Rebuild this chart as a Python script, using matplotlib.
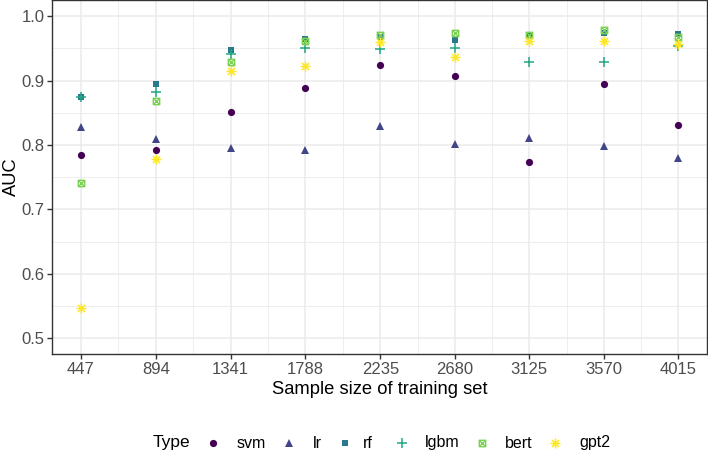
import matplotlib
matplotlib.use("Agg")
import matplotlib.pyplot as plt
from matplotlib.path import Path
from matplotlib.lines import Line2D

plt.rcParams['font.family'] = ['Liberation Sans', 'DejaVu Sans']

# training set sizes
sizes = [447, 894, 1341, 1788, 2235, 2680, 3125, 3570, 4015]

# AUC per model type
svm = [0.784, 0.792, 0.851, 0.888, 0.924, 0.907, 0.774, 0.895, 0.831]
lr = [0.828, 0.809, 0.796, 0.792, 0.830, 0.802, 0.811, 0.798, 0.780]
rf = [0.874, 0.894, 0.948, 0.964, 0.968, 0.963, 0.970, 0.974, 0.972]
lgbm = [0.874, 0.882, 0.941, 0.950, 0.949, 0.950, 0.928, 0.929, 0.954]
bert = [0.741, 0.868, 0.928, 0.961, 0.970, 0.973, 0.971, 0.978, 0.968]
gpt2 = [0.547, 0.778, 0.915, 0.922, 0.960, 0.936, 0.962, 0.962, 0.957]

types = ['svm', 'lr', 'rf', 'lgbm', 'bert', 'gpt2']
values = [svm, lr, rf, lgbm, bert, gpt2]
colors = ['#440154', '#414487', '#2A788E', '#22A884', '#7AD151', '#FDE725']

# R shape 7 (square with x) and shape 8 (asterisk)
sq_x = Path([(-1, -1), (1, -1), (1, 1), (-1, 1), (-1, -1),
             (-1, -1), (1, 1), (-1, 1), (1, -1)],
            [Path.MOVETO, Path.LINETO, Path.LINETO, Path.LINETO, Path.LINETO,
             Path.MOVETO, Path.LINETO, Path.MOVETO, Path.LINETO])
d = 0.7071
star = Path([(-1, 0), (1, 0), (0, -1), (0, 1), (-d, -d), (d, d), (-d, d), (d, -d)],
            [Path.MOVETO, Path.LINETO] * 4)

styles = {
    'svm': dict(marker='o', ms=5.2, mew=0),
    'lr': dict(marker='^', ms=5.8, mew=0),
    'rf': dict(marker='s', ms=4.8, mew=0),
    'lgbm': dict(marker='+', ms=7.2, mew=1.1),
    'bert': dict(marker=sq_x, ms=4.6, mew=1.0, mfc='none'),
    'gpt2': dict(marker=star, ms=7.2, mew=1.1, mfc='none'),
}

W, H = 708, 457
fig = plt.figure(figsize=(W / 100, H / 100), dpi=100)
ax = fig.add_axes([52 / W, 1 - 354.3 / H, 655.3 / W, 354.3 / H])

for t, v, c in zip(types, values, colors):
    ax.plot(sizes, v, linestyle='none', color=c, mec=c, **styles[t], zorder=3)

ax.set_xlim(447 - 173, 4015 + 173)
ax.set_ylim(0.475, 1.025)
ax.set_xticks(sizes)
ax.set_xticks([(a + b) / 2 for a, b in zip(sizes[:-1], sizes[1:])], minor=True)
ax.set_yticks([0.5, 0.6, 0.7, 0.8, 0.9, 1.0])
ax.set_yticks([0.55, 0.65, 0.75, 0.85, 0.95], minor=True)
ax.set_yticklabels(['0.5', '0.6', '0.7', '0.8', '0.9', '1.0'])

ax.grid(which='major', color='#EBEBEB', linewidth=1.1)
ax.grid(which='minor', color='#EBEBEB', linewidth=0.6)
ax.set_axisbelow(True)
for s in ax.spines.values():
    s.set_color('#333333')
    s.set_linewidth(1.0)
ax.tick_params(which='major', length=3.5, width=1.0, color='#333333',
               labelcolor='#4D4D4D', labelsize=12, pad=2)
ax.tick_params(which='minor', length=0)

ax.set_xlabel('Sample size of training set', fontsize=13.2, labelpad=3)
ax.set_ylabel('AUC', fontsize=13.2, va='center', ha='center')
ax.yaxis.set_label_coords((11 - 52) / 655.3, 0.5)

# legend drawn by hand at the bottom, like ggplot's horizontal guide
ly = 1 - 443 / H
fig.text(153 / W, ly, 'Type', fontsize=12.5, va='center', ha='left')
marker_x = [213, 289, 345, 402, 482, 555]
label_x = [237, 313, 363, 425, 505, 579]
for t, c, mx, tx in zip(types, colors, marker_x, label_x):
    fig.add_artist(Line2D([mx / W], [ly], linestyle='none', color=c, mec=c,
                          transform=fig.transFigure, **styles[t]))
    fig.text(tx / W, ly, t, fontsize=11.5, va='center', ha='left')

fig.savefig('out.png', dpi=100)
